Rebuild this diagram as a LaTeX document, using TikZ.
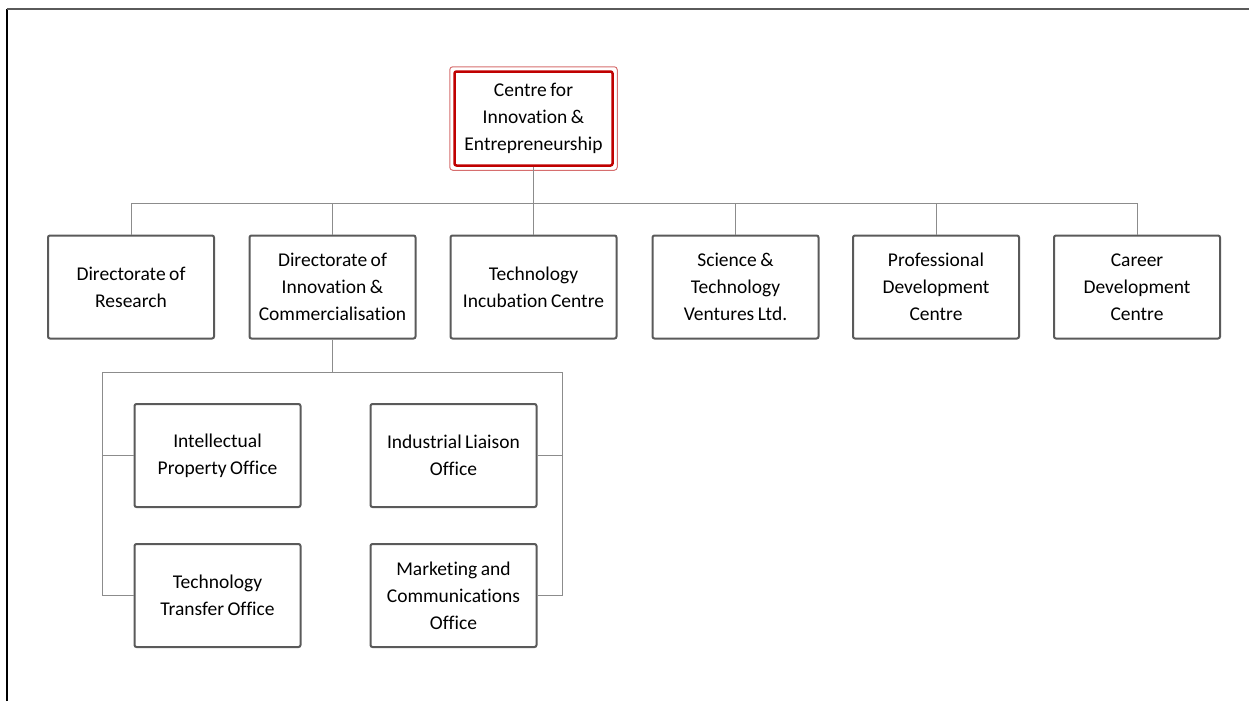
\documentclass[tikz,border=0pt]{standalone}
\usepackage{fontspec}
\setmainfont[Ligatures=NoCommon, WordSpace=0.8]{Carlito}
\usetikzlibrary{calc}

\definecolor{boxgray}{RGB}{90,90,90}
\definecolor{linegray}{RGB}{140,140,140}
\definecolor{cieRed}{RGB}{192,0,0}
\definecolor{cieRedLight}{RGB}{214,110,110}

\tikzset{every picture/.style={line width=0.75pt}}
\tikzset{
  unit/.style={draw=boxgray, line width=2pt, rounded corners=2pt, fill=white,
    minimum width=166pt, minimum height=103pt, inner sep=2pt,
    align=center, font=\fontsize{19.5}{27}\selectfont},
  headunit/.style={unit, draw=cieRed, line width=2.5pt, minimum width=158pt, minimum height=94pt},
  conn/.style={draw=linegray, line width=1pt},
}

\begin{document}
\begin{tikzpicture}[x=1pt,y=1pt,yscale=-1,xscale=1]
\useasboundingbox (0,0) rectangle (1249,701);

%Frame
\draw [black, line width=1.5pt] (7,701) -- (7,9.5) ;
\draw [boxgray, line width=2pt] (6.5,9.5) -- (1249,9.5) ;

%Head unit
\node [headunit] (cie) at (533.5,118.5) {Centre for\\Innovation \&\\Entrepreneurship};
\draw [cieRedLight, line width=1pt, rounded corners=3pt] ($(cie.north west)+(-3.5,-3.5)$) rectangle ($(cie.south east)+(3.5,3.5)$) ;

%Second level
\node [unit] (dor) at (131,287) {Directorate of\\Research};
\node [unit] (dic) at (332.5,287) {Directorate of\\Innovation \&\\Commercialisation};
\node [unit] (tic) at (533.5,287) {Technology\\Incubation Centre};
\node [unit] (stv) at (735.5,287) {Science \&\\Technology\\Ventures Ltd.};
\node [unit] (pdc) at (936,287) {Professional\\Development\\Centre};
\node [unit] (cdc) at (1137,287) {Career\\Development\\Centre};

%Third level
\node [unit] (ipo) at (217.5,455.5) {Intellectual\\Property Office};
\node [unit] (ilo) at (453.5,455.5) {Industrial Liaison\\Office};
\node [unit] (tto) at (217.5,595.5) {Technology\\Transfer Office};
\node [unit] (mco) at (453.5,595.5) {Marketing and\\Communications\\Office};

%Connectors
\coordinate (bus) at (0,203);
\coordinate (subL) at (102,372);
\coordinate (subR) at (562,372);

\draw [conn] (cie.south) -- (cie.south |- bus) ;
\draw [conn] (dor.north) |- (bus -| cdc.north) -- (cdc.north) ;
\foreach \n in {dic,tic,stv,pdc}
  \draw [conn] (\n.north) -- (\n.north |- bus) ;

\draw [conn] (dic.south) -- (dic.south |- subL) ;
\draw [conn] (tto.west) -| (subL) -- (subR) |- (mco.east) ;
\draw [conn] (ipo.west) -- (ipo.west -| subL) ;
\draw [conn] (ilo.east) -- (ilo.east -| subR) ;

\end{tikzpicture}
\end{document}
